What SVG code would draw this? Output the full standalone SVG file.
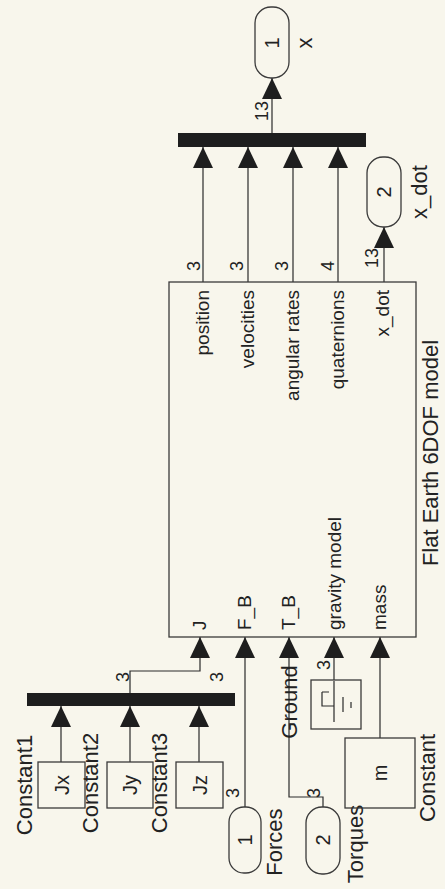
<svg xmlns="http://www.w3.org/2000/svg" width="445" height="889" viewBox="0 0 445 889">
<defs>
<marker id="ah" markerUnits="userSpaceOnUse" markerWidth="22" markerHeight="22" viewBox="0 0 22 20" refX="21" refY="10" orient="auto">
<path d="M0,0 L21,10 L0,20 z" fill="#1e1e1e"/>
</marker>
<style>
.bg{fill:#f8f6ec}
.blk{fill:none;stroke:#3a3a3a;stroke-width:1.3}
.port{fill:none;stroke:#3a3a3a;stroke-width:1.3}
.mux{fill:#1e1e1e}
.ln{fill:none;stroke:#2a2a2a;stroke-width:1.2;marker-end:url(#ah)}
.ln0{fill:none;stroke:#2a2a2a;stroke-width:1.2}
text{font-family:"Liberation Sans",Arial,sans-serif;fill:#222}
.pl{font-size:19px}
.bn{font-size:22px}
.sz{font-size:18px}
.dg{font-size:20px}
.mid{text-anchor:middle}
.end{text-anchor:end}
</style>
</defs>
<rect class="bg" x="0" y="0" width="445" height="889"/>

<g id="connectors">
<line class="ln" x1="203" y1="282" x2="203" y2="147"/>
<line class="ln" x1="248" y1="282" x2="248" y2="147"/>
<line class="ln" x1="293" y1="282" x2="293" y2="147"/>
<line class="ln" x1="338" y1="282" x2="338" y2="147"/>
<line class="ln" x1="384" y1="282" x2="384" y2="227"/>
<line class="ln" x1="272" y1="133" x2="272" y2="78"/>
<line class="ln" x1="61" y1="762" x2="61" y2="706"/>
<line class="ln" x1="130" y1="762" x2="130" y2="706"/>
<line class="ln" x1="199" y1="762" x2="199" y2="706"/>
<polyline class="ln" points="130,693 130,671 200,671 200,637"/>
<line class="ln" x1="245" y1="807" x2="245" y2="637"/>
<polyline class="ln" points="323,807 323,797 289,797 289,637"/>
<line class="ln" x1="334" y1="680" x2="334" y2="637"/>
<line class="ln" x1="380" y1="738" x2="380" y2="637"/>
<g class="sz">
<text transform="translate(200,266) rotate(-90)" class="mid">3</text>
<text transform="translate(243,266) rotate(-90)" class="mid">3</text>
<text transform="translate(288,266) rotate(-90)" class="mid">3</text>
<text transform="translate(334,266) rotate(-90)" class="mid">4</text>
<text transform="translate(267.5,111) rotate(-90)" class="mid">13</text>
<text transform="translate(378,258) rotate(-90)" class="mid">13</text>
<text transform="translate(128.5,677) rotate(-90)" class="mid">3</text>
<text transform="translate(222.5,677) rotate(-90)" class="mid">3</text>
<text transform="translate(239,793) rotate(-90)" class="mid">3</text>
<text transform="translate(319.5,793) rotate(-90)" class="mid">3</text>
<text transform="translate(329.5,665) rotate(-90)" class="mid">3</text>
</g>
</g>

<g id="sixdof">
<rect class="blk" x="169" y="282" width="247" height="355"/>
<g class="pl">
<text transform="translate(209,290) rotate(-90)" class="end">position</text>
<text transform="translate(254,290) rotate(-90)" class="end">velocities</text>
<text transform="translate(299,290) rotate(-90)" class="end">angular rates</text>
<text transform="translate(344,290) rotate(-90)" class="end">quaternions</text>
<text transform="translate(389,290) rotate(-90)" class="end">x_dot</text>
<text transform="translate(206,630) rotate(-90)">J</text>
<text transform="translate(251,630) rotate(-90)">F_B</text>
<text transform="translate(295,630) rotate(-90)">T_B</text>
<text transform="translate(341,630) rotate(-90)">gravity model</text>
<text transform="translate(386,630) rotate(-90)">mass</text>
</g>
<text class="bn mid" transform="translate(438,453) rotate(-90)">Flat Earth 6DOF model</text>
</g>

<g id="mux_out">
<rect class="mux" x="178" y="133" width="188" height="14"/>
</g>

<g id="out_x">
<rect class="port" x="255" y="7" width="34" height="71" rx="16" ry="16"/>
<text class="dg mid" transform="translate(279,43) rotate(-90)">1</text>
<text class="bn mid" transform="translate(312,43) rotate(-90)">x</text>
</g>

<g id="out_xdot">
<rect class="port" x="367" y="157" width="34" height="70" rx="16" ry="16"/>
<text class="dg mid" transform="translate(391,192) rotate(-90)">2</text>
<text class="bn mid" transform="translate(427,192) rotate(-90)">x_dot</text>
</g>

<g id="mux_J">
<rect class="mux" x="27" y="693" width="208" height="13"/>
</g>

<g id="constant1">
<rect class="blk" x="38" y="762" width="47" height="46"/>
<text class="dg mid" transform="translate(68.5,785) rotate(-90)">Jx</text>
<text class="bn mid" transform="translate(32,785) rotate(-90)">Constant1</text>
</g>

<g id="constant2">
<rect class="blk" x="107" y="762" width="46" height="46"/>
<text class="dg mid" transform="translate(137,785) rotate(-90)">Jy</text>
<text class="bn mid" transform="translate(98,783) rotate(-90)">Constant2</text>
</g>

<g id="constant3">
<rect class="blk" x="176" y="762" width="47" height="46"/>
<text class="dg mid" transform="translate(206.5,785) rotate(-90)">Jz</text>
<text class="bn mid" transform="translate(167,783) rotate(-90)">Constant3</text>
</g>

<g id="in_forces">
<rect class="port" x="229" y="807" width="32" height="66" rx="15" ry="15"/>
<text class="dg mid" transform="translate(252,840) rotate(-90)">1</text>
<text class="bn mid" transform="translate(282,842) rotate(-90)">Forces</text>
</g>

<g id="in_torques">
<rect class="port" x="306" y="807" width="34" height="67" rx="16" ry="16"/>
<text class="dg mid" transform="translate(330,840) rotate(-90)">2</text>
<text class="bn mid" transform="translate(363,844) rotate(-90)">Torques</text>
</g>

<g id="ground">
<rect class="blk" x="311" y="680" width="50" height="49"/>
<path class="ln0" d="M334,681 V722 M322,692 V706 H334 M322,692 H329 M343,697 V712 M351,702 V708"/>
<text class="bn mid" transform="translate(297,702) rotate(-90)">Ground</text>
</g>

<g id="constant_m">
<rect class="blk" x="345" y="738" width="70" height="70"/>
<text class="dg mid" transform="translate(387,773) rotate(-90)">m</text>
<text class="bn mid" transform="translate(435,778) rotate(-90)">Constant</text>
</g>
</svg>
